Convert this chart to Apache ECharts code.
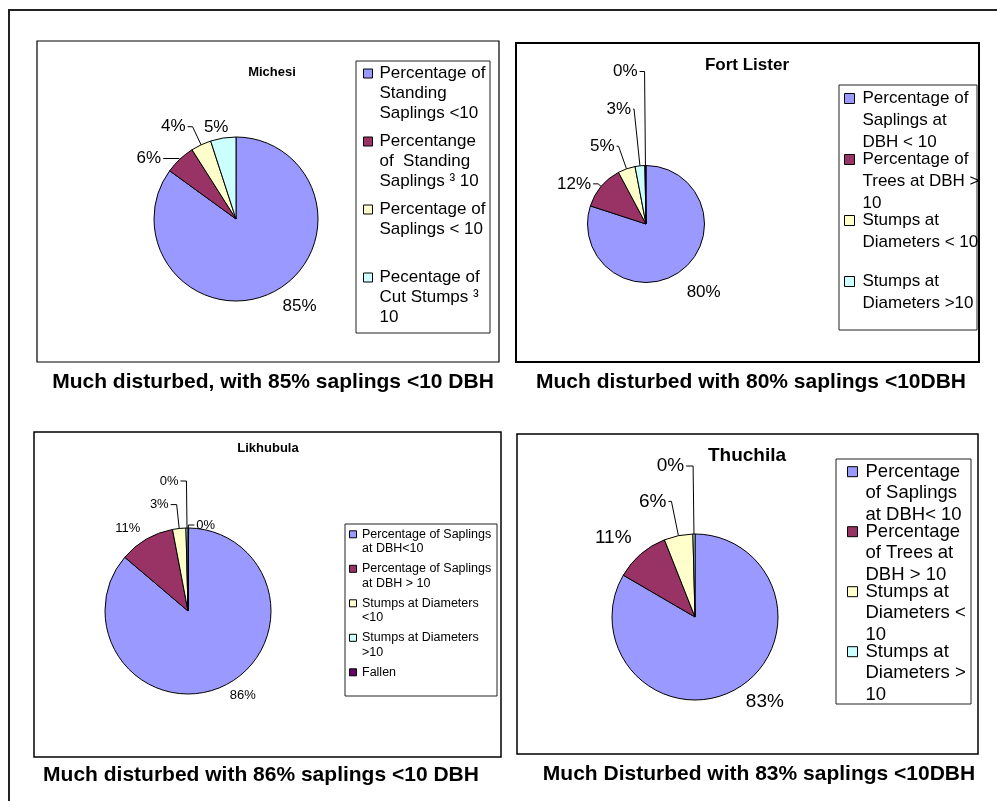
<!DOCTYPE html>
<html>
<head>
<meta charset="utf-8">
<script src="https://cdn.jsdelivr.net/npm/echarts@6/dist/echarts.min.js"></script>
<style>html,body{margin:0;padding:0;background:#fff}#c{width:997px;height:801px}</style>
</head>
<body>
<div id="c"></div>
<script>
// ---------------- data ----------------
const chartTitles = ['Michesi', 'Fort Lister', 'Likhubula', 'Thuchila'];
const captions = [
  'Much disturbed, with 85% saplings <10 DBH',
  'Much disturbed with 80% saplings <10DBH',
  'Much disturbed with 86% saplings <10 DBH',
  'Much Disturbed with 83% saplings <10DBH'
];

const michesiCategories = [
  'Percentage of\nStanding\nSaplings <10',
  'Percentange\nof  Standing\nSaplings \u00B3 10',
  'Percentage of\nSaplings < 10',
  'Pecentage of\nCut Stumps \u00B3\n10'
];
const michesiValues = [85, 6, 4, 5];

const fortCategories = [
  'Percentage of\nSaplings at\nDBH < 10',
  'Percentage of\nTrees at DBH >\n10',
  'Stumps at\nDiameters < 10',
  'Stumps at\nDiameters >10',
  'Fallen'
];
const fortValues = [80, 12.2, 4.8, 2.7, 0.3];
const fortLegendNames = fortCategories.slice(0, 4);

const likhubulaCategories = [
  'Percentage of Saplings\nat DBH<10',
  'Percentage of Saplings\nat DBH > 10',
  'Stumps at Diameters\n<10',
  'Stumps at Diameters\n>10',
  'Fallen'
];
const likhubulaValues = [86.1, 10.8, 2.6, 0.4, 0.1];

const thuchilaCategories = [
  'Percentage\nof Saplings\nat DBH< 10',
  'Percentage\nof Trees at\nDBH > 10',
  'Stumps at\nDiameters <\n10',
  'Stumps at\nDiameters >\n10'
];
const thuchilaValues = [83.4, 10.6, 5.6, 0.4];

// ---------------- layout / style ----------------
const FONT = '"Liberation Sans", Arial, Helvetica, sans-serif';
const COLORS = ['#9999FF', '#993366', '#FFFFCC', '#CCFFFF', '#660066'];

const panels = [
  { cats: michesiCategories, vals: michesiValues, legendNames: michesiCategories,
    box: [37, 41, 462, 321], boxW: 1.2, title: [272, 72, 13], caption: [273, 382],
    center: [236, 219], r: 82, startAngle: 90, labelSize: 17,
    legendBox: [356, 61, 134, 272],
    legend: { left: 363, firstY: 73.5, n: 3, lh: 20, pitch: 68, font: 17, icon: 9, gap: 7 },
    lines: [[16, 0, false], [1, 16, true], [20, 5, true], [11, -9, false]] },
  { cats: fortCategories, vals: fortValues, legendNames: fortLegendNames,
    box: [516, 43, 463, 319], boxW: 2, title: [747, 65, 17], caption: [751, 382],
    center: [646, 224], r: 58.5, startAngle: 90, labelSize: 17,
    legendBox: [839, 85, 138, 245],
    legend: { left: 844, firstY: 98.5, n: 3, lh: 22, pitch: 61, font: 17, icon: 10, gap: 8 },
    lines: [[26, -11, false], [4, 5, true], [24, 2, true], [57, 1, true], [94, 5, true]] },
  { cats: likhubulaCategories, vals: likhubulaValues, legendNames: likhubulaCategories,
    box: [34, 432, 467, 325], boxW: 1.5, title: [268, 448, 13], caption: [261, 775],
    center: [188, 611], r: 83, startAngle: 89.6, labelSize: 13,
    legendBox: [345, 524, 152, 172],
    legend: { left: 349, firstY: 534.3, n: 2, lh: 14.7, pitch: 34.5, font: 12.5, icon: 7, gap: 5.5 },
    lines: [[10, 1, false], [12, -2, false], [24, 6, true], [47, 6, true], [3, 6, true]] },
  { cats: thuchilaCategories, vals: thuchilaValues, legendNames: thuchilaCategories,
    box: [517, 434, 461, 320], boxW: 1.5, title: [747, 456, 19], caption: [759, 774],
    center: [695, 617], r: 83, startAngle: 90, labelSize: 19,
    legendBox: [836, 459, 135, 245],
    legend: { left: 847, firstY: 471.7, n: 3, lh: 21.7, pitch: 60, font: 18.5, icon: 10, gap: 8 },
    lines: [[15, 0, false], [22, -7, false], [35, 3, true], [68, 7, true]] }
];

// pads a legend entry so its first line sits level with the key square
function padLegend(name, n) {
  const lines = name.split('\n');
  const out = [];
  for (let i = 0; i < n - 1; i++) out.push('');
  lines.forEach(l => out.push(l));
  while (out.length < 2 * n - 1) out.push('');
  return out.join('\n');
}

const titles = [];
panels.forEach((p, i) => {
  titles.push({
    text: chartTitles[i], left: p.title[0], top: p.title[1], padding: 0,
    textAlign: 'center', textVerticalAlign: 'middle',
    textStyle: { fontSize: p.title[2], fontWeight: 'bold', color: '#000', fontFamily: FONT }
  });
  titles.push({
    text: captions[i], left: p.caption[0], top: p.caption[1], padding: 0,
    textAlign: 'center', textVerticalAlign: 'middle',
    textStyle: { fontSize: 21, fontWeight: 'bold', color: '#000', fontFamily: FONT }
  });
});

const legends = panels.map(p => {
  const L = p.legend;
  const block = (2 * L.n - 1) * L.lh;
  return {
    orient: 'vertical', left: L.left, top: L.firstY - block / 2, padding: 0,
    itemWidth: L.icon, itemHeight: L.icon, itemGap: L.pitch - block,
    icon: 'rect', selectedMode: false,
    data: p.legendNames,
    formatter: name => padLegend(name, L.n),
    itemStyle: { borderColor: '#000', borderWidth: 1 },
    textStyle: { fontSize: L.font, lineHeight: L.lh, color: '#000', fontFamily: FONT, padding: [0, 0, 0, L.gap - 5] }
  };
});

const series = panels.map(p => ({
  type: 'pie',
  center: p.center,
  radius: p.r,
  startAngle: p.startAngle,
  clockwise: true,
  avoidLabelOverlap: false,
  silent: true,
  itemStyle: { borderColor: '#000', borderWidth: 1 },
  label: {
    show: true, position: 'outside', color: '#000', fontSize: p.labelSize, fontFamily: FONT,
    distanceToLabelLine: 2,
    formatter: prm => Math.round(prm.value) + '%'
  },
  labelLine: { show: true, smooth: false, lineStyle: { color: '#000', width: 1 } },
  emphasis: { disabled: true },
  data: p.vals.map((v, k) => ({
    name: p.cats[k], value: v,
    itemStyle: { color: COLORS[k] },
    labelLine: { show: p.lines[k][2], length: p.lines[k][0], length2: p.lines[k][1] }
  }))
}));

const graphics = [
  { type: 'rect', shape: { x: 9, y: 10, width: 1000, height: 800 }, style: { fill: 'none', stroke: '#222', lineWidth: 2 }, silent: true }
];
panels.forEach(p => {
  graphics.push({ type: 'rect', shape: { x: p.box[0], y: p.box[1], width: p.box[2], height: p.box[3] },
    style: { fill: 'none', stroke: '#000', lineWidth: p.boxW }, silent: true });
  graphics.push({ type: 'rect', shape: { x: p.legendBox[0], y: p.legendBox[1], width: p.legendBox[2], height: p.legendBox[3] },
    style: { fill: 'none', stroke: '#222', lineWidth: 1 }, silent: true });
});

const chart = echarts.init(document.getElementById('c'), null, { renderer: 'canvas' });
chart.setOption({
  animation: false,
  backgroundColor: '#fff',
  color: COLORS,
  title: titles,
  legend: legends,
  graphic: graphics,
  series: series
});
</script>
</body>
</html>
